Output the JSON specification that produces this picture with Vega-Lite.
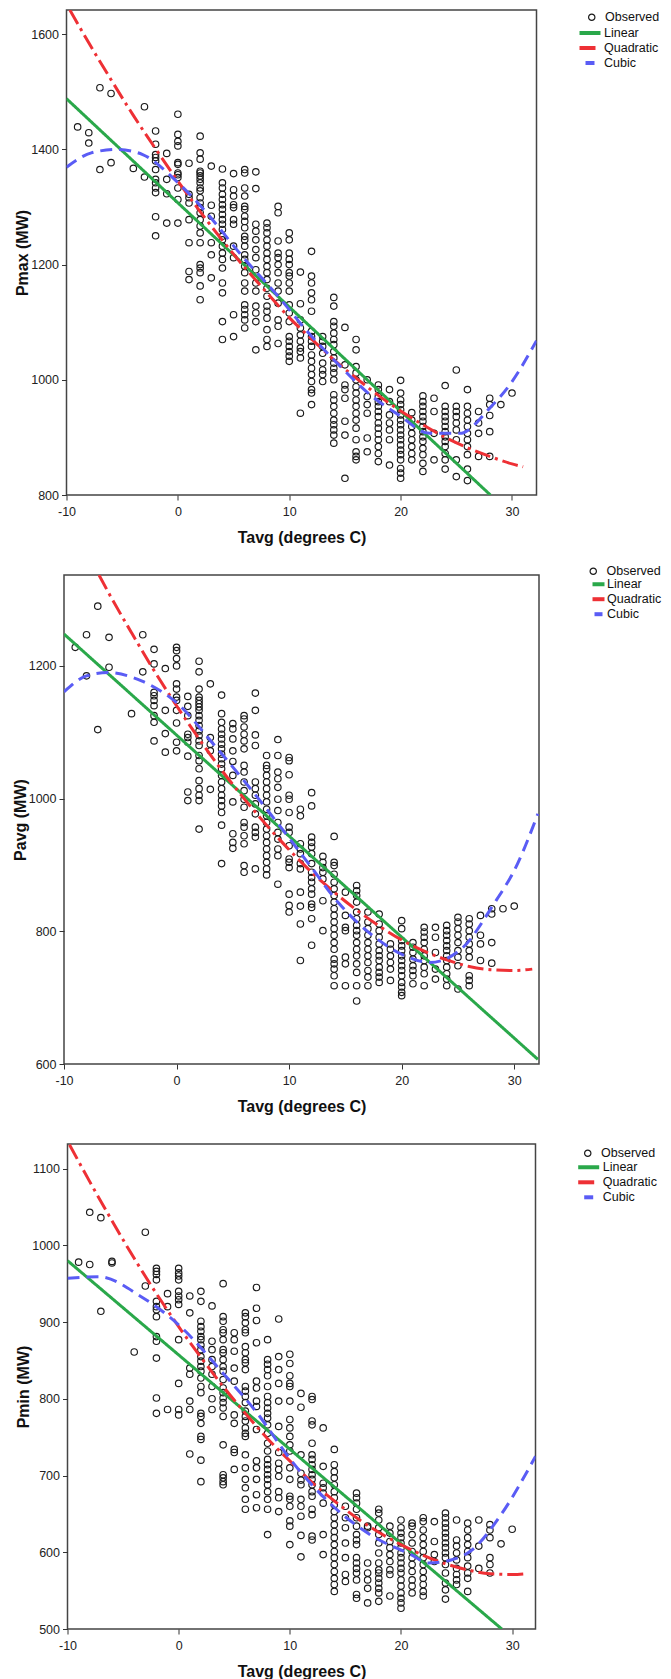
{
  "$schema": "https://vega.github.io/schema/vega-lite/v6.json",
  "background": "white",
  "padding": {"left": 11, "top": 9, "right": 0, "bottom": 0},
  "config": {
    "view": {"stroke": "#444444", "strokeWidth": 1.5},
    "font": "Liberation Sans",
    "axis": {"grid": false, "domain": false, "ticks": true, "tickSize": 5, "tickColor": "#333333", "tickWidth": 1,
             "labelFont": "Liberation Sans", "labelFontSize": 12.5, "labelColor": "#222222",
             "titleFont": "Liberation Sans", "titleFontSize": 16, "titleFontWeight": "bold", "titleColor": "#111111",
             "labelFlush": false, "labelOverlap": false},
    "axisX": {"labelPadding": 5, "titlePadding": 12},
    "axisY": {"labelPadding": 3, "titlePadding": 0},
    "legend": {"title": null, "padding": 0, "labelFont": "Liberation Sans", "labelFontSize": 12.5, "labelColor": "#111111", "labelOffset": 7}
  },
  "datasets": {
    "p1": [
      {"t":-9,"p":1439},{"t":-8,"p":1429},{"t":-8,"p":1411},{"t":-7,"p":1507},{"t":-7,"p":1365},{"t":-6,"p":1497},{"t":-6,"p":1377},{"t":-4,"p":1367},{"t":-3,"p":1474},{"t":-3,"p":1352},
      {"t":-2,"p":1432},{"t":-2,"p":1409},{"t":-2,"p":1391},{"t":-2,"p":1386},{"t":-2,"p":1380},{"t":-2,"p":1365},{"t":-2,"p":1348},{"t":-2,"p":1342},{"t":-2,"p":1333},{"t":-2,"p":1325},{"t":-2,"p":1283},{"t":-2,"p":1250},
      {"t":-1,"p":1393},{"t":-1,"p":1348},{"t":-1,"p":1323},{"t":-1,"p":1272},
      {"t":0,"p":1461},{"t":0,"p":1426},{"t":0,"p":1414},{"t":0,"p":1406},{"t":0,"p":1377},{"t":0,"p":1374},{"t":0,"p":1359},{"t":0,"p":1356},{"t":0,"p":1351},{"t":0,"p":1333},{"t":0,"p":1313},{"t":0,"p":1272},
      {"t":1,"p":1376},{"t":1,"p":1322},{"t":1,"p":1316},{"t":1,"p":1307},{"t":1,"p":1278},{"t":1,"p":1238},{"t":1,"p":1188},{"t":1,"p":1174},
      {"t":2,"p":1423},{"t":2,"p":1394},{"t":2,"p":1383},{"t":2,"p":1362},{"t":2,"p":1359},{"t":2,"p":1354},{"t":2,"p":1348},{"t":2,"p":1342},{"t":2,"p":1333},{"t":2,"p":1328},{"t":2,"p":1316},{"t":2,"p":1307},{"t":2,"p":1299},{"t":2,"p":1290},{"t":2,"p":1278},{"t":2,"p":1267},{"t":2,"p":1255},{"t":2,"p":1238},{"t":2,"p":1200},{"t":2,"p":1194},{"t":2,"p":1186},{"t":2,"p":1163},{"t":2,"p":1139},
      {"t":3,"p":1371},{"t":3,"p":1303},{"t":3,"p":1284},{"t":3,"p":1238},{"t":3,"p":1217},{"t":3,"p":1177},
      {"t":4,"p":1366},{"t":4,"p":1342},{"t":4,"p":1333},{"t":4,"p":1322},{"t":4,"p":1313},{"t":4,"p":1304},{"t":4,"p":1296},{"t":4,"p":1287},{"t":4,"p":1278},{"t":4,"p":1270},{"t":4,"p":1261},{"t":4,"p":1249},{"t":4,"p":1243},{"t":4,"p":1232},{"t":4,"p":1220},{"t":4,"p":1209},{"t":4,"p":1194},{"t":4,"p":1168},{"t":4,"p":1151},{"t":4,"p":1101},{"t":4,"p":1070},
      {"t":5,"p":1358},{"t":5,"p":1330},{"t":5,"p":1319},{"t":5,"p":1304},{"t":5,"p":1299},{"t":5,"p":1278},{"t":5,"p":1270},{"t":5,"p":1232},{"t":5,"p":1212},{"t":5,"p":1113},{"t":5,"p":1075},
      {"t":6,"p":1365},{"t":6,"p":1359},{"t":6,"p":1333},{"t":6,"p":1319},{"t":6,"p":1301},{"t":6,"p":1296},{"t":6,"p":1284},{"t":6,"p":1275},{"t":6,"p":1264},{"t":6,"p":1249},{"t":6,"p":1243},{"t":6,"p":1232},{"t":6,"p":1217},{"t":6,"p":1209},{"t":6,"p":1197},{"t":6,"p":1186},{"t":6,"p":1168},{"t":6,"p":1154},{"t":6,"p":1130},{"t":6,"p":1122},{"t":6,"p":1113},{"t":6,"p":1104},{"t":6,"p":1090},
      {"t":7,"p":1361},{"t":7,"p":1332},{"t":7,"p":1270},{"t":7,"p":1258},{"t":7,"p":1243},{"t":7,"p":1226},{"t":7,"p":1212},{"t":7,"p":1191},{"t":7,"p":1168},{"t":7,"p":1154},{"t":7,"p":1128},{"t":7,"p":1116},{"t":7,"p":1101},{"t":7,"p":1052},
      {"t":8,"p":1272},{"t":8,"p":1264},{"t":8,"p":1255},{"t":8,"p":1243},{"t":8,"p":1232},{"t":8,"p":1220},{"t":8,"p":1209},{"t":8,"p":1197},{"t":8,"p":1186},{"t":8,"p":1174},{"t":8,"p":1159},{"t":8,"p":1145},{"t":8,"p":1128},{"t":8,"p":1119},{"t":8,"p":1107},{"t":8,"p":1087},{"t":8,"p":1070},{"t":8,"p":1058},
      {"t":9,"p":1301},{"t":9,"p":1290},{"t":9,"p":1241},{"t":9,"p":1220},{"t":9,"p":1212},{"t":9,"p":1200},{"t":9,"p":1186},{"t":9,"p":1168},{"t":9,"p":1154},{"t":9,"p":1133},{"t":9,"p":1104},{"t":9,"p":1093},{"t":9,"p":1063},
      {"t":10,"p":1255},{"t":10,"p":1243},{"t":10,"p":1220},{"t":10,"p":1209},{"t":10,"p":1200},{"t":10,"p":1186},{"t":10,"p":1180},{"t":10,"p":1168},{"t":10,"p":1154},{"t":10,"p":1130},{"t":10,"p":1116},{"t":10,"p":1101},{"t":10,"p":1075},{"t":10,"p":1067},{"t":10,"p":1058},{"t":10,"p":1049},{"t":10,"p":1041},{"t":10,"p":1032},
      {"t":11,"p":1187},{"t":11,"p":1132},{"t":11,"p":1104},{"t":11,"p":1090},{"t":11,"p":1078},{"t":11,"p":1067},{"t":11,"p":1055},{"t":11,"p":1049},{"t":11,"p":1038},{"t":11,"p":942},
      {"t":12,"p":1223},{"t":12,"p":1180},{"t":12,"p":1168},{"t":12,"p":1151},{"t":12,"p":1139},{"t":12,"p":1119},{"t":12,"p":1084},{"t":12,"p":1075},{"t":12,"p":1067},{"t":12,"p":1058},{"t":12,"p":1043},{"t":12,"p":1032},{"t":12,"p":1020},{"t":12,"p":1009},{"t":12,"p":997},{"t":12,"p":983},{"t":12,"p":977},{"t":12,"p":957},
      {"t":13,"p":1075},{"t":13,"p":1067},{"t":13,"p":1058},{"t":13,"p":1046},{"t":13,"p":1029},{"t":13,"p":1017},{"t":13,"p":1009},{"t":13,"p":997},
      {"t":14,"p":1143},{"t":14,"p":1128},{"t":14,"p":1101},{"t":14,"p":1093},{"t":14,"p":1081},{"t":14,"p":1070},{"t":14,"p":1061},{"t":14,"p":1049},{"t":14,"p":1038},{"t":14,"p":1029},{"t":14,"p":1020},{"t":14,"p":1012},{"t":14,"p":1000},{"t":14,"p":974},{"t":14,"p":965},{"t":14,"p":954},{"t":14,"p":942},{"t":14,"p":930},{"t":14,"p":922},{"t":14,"p":913},{"t":14,"p":904},{"t":14,"p":890},
      {"t":15,"p":1091},{"t":15,"p":1026},{"t":15,"p":991},{"t":15,"p":983},{"t":15,"p":968},{"t":15,"p":928},{"t":15,"p":904},{"t":15,"p":829},
      {"t":16,"p":1070},{"t":16,"p":1052},{"t":16,"p":1023},{"t":16,"p":1012},{"t":16,"p":1000},{"t":16,"p":988},{"t":16,"p":977},{"t":16,"p":965},{"t":16,"p":954},{"t":16,"p":942},{"t":16,"p":930},{"t":16,"p":916},{"t":16,"p":896},{"t":16,"p":875},{"t":16,"p":867},{"t":16,"p":861},
      {"t":17,"p":1000},{"t":17,"p":971},{"t":17,"p":957},{"t":17,"p":942},{"t":17,"p":899},{"t":17,"p":875},
      {"t":18,"p":991},{"t":18,"p":983},{"t":18,"p":971},{"t":18,"p":962},{"t":18,"p":954},{"t":18,"p":945},{"t":18,"p":936},{"t":18,"p":925},{"t":18,"p":916},{"t":18,"p":906},{"t":18,"p":896},{"t":18,"p":884},{"t":18,"p":872},{"t":18,"p":858},
      {"t":19,"p":983},{"t":19,"p":962},{"t":19,"p":939},{"t":19,"p":925},{"t":19,"p":913},{"t":19,"p":896},{"t":19,"p":852},
      {"t":20,"p":999},{"t":20,"p":977},{"t":20,"p":965},{"t":20,"p":957},{"t":20,"p":948},{"t":20,"p":939},{"t":20,"p":930},{"t":20,"p":922},{"t":20,"p":913},{"t":20,"p":904},{"t":20,"p":896},{"t":20,"p":887},{"t":20,"p":878},{"t":20,"p":870},{"t":20,"p":861},{"t":20,"p":846},{"t":20,"p":838},{"t":20,"p":829},
      {"t":21,"p":943},{"t":21,"p":930},{"t":21,"p":919},{"t":21,"p":907},{"t":21,"p":896},{"t":21,"p":884},{"t":21,"p":872},{"t":21,"p":861},
      {"t":22,"p":972},{"t":22,"p":962},{"t":22,"p":954},{"t":22,"p":945},{"t":22,"p":936},{"t":22,"p":928},{"t":22,"p":919},{"t":22,"p":910},{"t":22,"p":901},{"t":22,"p":893},{"t":22,"p":881},{"t":22,"p":870},{"t":22,"p":855},{"t":22,"p":841},
      {"t":23,"p":968},{"t":23,"p":945},{"t":23,"p":907},{"t":23,"p":861},
      {"t":24,"p":990},{"t":24,"p":954},{"t":24,"p":945},{"t":24,"p":936},{"t":24,"p":928},{"t":24,"p":919},{"t":24,"p":910},{"t":24,"p":901},{"t":24,"p":893},{"t":24,"p":884},{"t":24,"p":872},{"t":24,"p":861},{"t":24,"p":845},
      {"t":25,"p":1017},{"t":25,"p":954},{"t":25,"p":945},{"t":25,"p":936},{"t":25,"p":925},{"t":25,"p":913},{"t":25,"p":896},{"t":25,"p":861},{"t":25,"p":832},
      {"t":26,"p":983},{"t":26,"p":954},{"t":26,"p":942},{"t":26,"p":930},{"t":26,"p":919},{"t":26,"p":907},{"t":26,"p":896},{"t":26,"p":884},{"t":26,"p":870},{"t":26,"p":845},{"t":26,"p":825},
      {"t":27,"p":945},{"t":27,"p":925},{"t":27,"p":907},{"t":27,"p":867},
      {"t":28,"p":968},{"t":28,"p":957},{"t":28,"p":938},{"t":28,"p":910},{"t":28,"p":867},
      {"t":29,"p":957},{"t":30,"p":977}
    ],
    "c1": [
      {"s":"Linear","t":-10,"p":1488},{"s":"Linear","t":28.06,"p":800},
      {"s":"Quadratic","t":-9.7,"p":1642},{"s":"Quadratic","t":-8,"p":1585},{"s":"Quadratic","t":-6,"p":1521},{"s":"Quadratic","t":-4,"p":1459},{"s":"Quadratic","t":-2,"p":1401},{"s":"Quadratic","t":0,"p":1345},{"s":"Quadratic","t":2,"p":1292},{"s":"Quadratic","t":4,"p":1242},{"s":"Quadratic","t":6,"p":1195},{"s":"Quadratic","t":8,"p":1151},{"s":"Quadratic","t":10,"p":1108},{"s":"Quadratic","t":12,"p":1071},{"s":"Quadratic","t":14,"p":1035},{"s":"Quadratic","t":16,"p":1003},{"s":"Quadratic","t":18,"p":973},{"s":"Quadratic","t":20,"p":946},{"s":"Quadratic","t":22,"p":922},{"s":"Quadratic","t":24,"p":900},{"s":"Quadratic","t":26,"p":882},{"s":"Quadratic","t":28,"p":867},{"s":"Quadratic","t":30,"p":854},{"s":"Quadratic","t":31,"p":849},
      {"s":"Cubic","t":-10,"p":1369},{"s":"Cubic","t":-7.77,"p":1394},{"s":"Cubic","t":-5.47,"p":1400},{"s":"Cubic","t":-3.16,"p":1391},{"s":"Cubic","t":-0.09,"p":1344},{"s":"Cubic","t":2.22,"p":1298},{"s":"Cubic","t":5.67,"p":1217},{"s":"Cubic","t":9.13,"p":1142},{"s":"Cubic","t":11.8,"p":1080},{"s":"Cubic","t":14.5,"p":1025},{"s":"Cubic","t":17.2,"p":975},{"s":"Cubic","t":19.9,"p":938},{"s":"Cubic","t":22.6,"p":907},{"s":"Cubic","t":25.3,"p":907},{"s":"Cubic","t":27.96,"p":950},{"s":"Cubic","t":29.9,"p":994},{"s":"Cubic","t":32.2,"p":1068}
    ],
    "p2": [
      {"t":-9,"p":1228},{"t":-8,"p":1247},{"t":-8,"p":1185},{"t":-7,"p":1290},{"t":-7,"p":1104},{"t":-6,"p":1243},{"t":-6,"p":1198},{"t":-4,"p":1128},{"t":-3,"p":1247},{"t":-3,"p":1191},
      {"t":-2,"p":1225},{"t":-2,"p":1203},{"t":-2,"p":1160},{"t":-2,"p":1155},{"t":-2,"p":1148},{"t":-2,"p":1140},{"t":-2,"p":1125},{"t":-2,"p":1115},{"t":-2,"p":1087},
      {"t":-1,"p":1196},{"t":-1,"p":1133},{"t":-1,"p":1098},{"t":-1,"p":1070},
      {"t":0,"p":1228},{"t":0,"p":1223},{"t":0,"p":1211},{"t":0,"p":1200},{"t":0,"p":1173},{"t":0,"p":1165},{"t":0,"p":1153},{"t":0,"p":1148},{"t":0,"p":1133},{"t":0,"p":1114},{"t":0,"p":1085},{"t":0,"p":1072},
      {"t":1,"p":1154},{"t":1,"p":1139},{"t":1,"p":1125},{"t":1,"p":1097},{"t":1,"p":1092},{"t":1,"p":1085},{"t":1,"p":1064},{"t":1,"p":1010},{"t":1,"p":997},
      {"t":2,"p":1207},{"t":2,"p":1191},{"t":2,"p":1165},{"t":2,"p":1153},{"t":2,"p":1148},{"t":2,"p":1143},{"t":2,"p":1138},{"t":2,"p":1133},{"t":2,"p":1125},{"t":2,"p":1118},{"t":2,"p":1110},{"t":2,"p":1102},{"t":2,"p":1095},{"t":2,"p":1087},{"t":2,"p":1080},{"t":2,"p":1065},{"t":2,"p":1057},{"t":2,"p":1045},{"t":2,"p":1027},{"t":2,"p":1015},{"t":2,"p":1005},{"t":2,"p":997},{"t":2,"p":954},
      {"t":3,"p":1173},{"t":3,"p":1092},{"t":3,"p":1082},{"t":3,"p":1072},{"t":3,"p":1014},
      {"t":4,"p":1156},{"t":4,"p":1128},{"t":4,"p":1115},{"t":4,"p":1105},{"t":4,"p":1097},{"t":4,"p":1090},{"t":4,"p":1082},{"t":4,"p":1075},{"t":4,"p":1067},{"t":4,"p":1060},{"t":4,"p":1052},{"t":4,"p":1045},{"t":4,"p":1035},{"t":4,"p":1025},{"t":4,"p":1015},{"t":4,"p":1005},{"t":4,"p":997},{"t":4,"p":989},{"t":4,"p":979},{"t":4,"p":960},{"t":4,"p":902},
      {"t":5,"p":1113},{"t":5,"p":1105},{"t":5,"p":1090},{"t":5,"p":1072},{"t":5,"p":1056},{"t":5,"p":1035},{"t":5,"p":995},{"t":5,"p":947},{"t":5,"p":934},{"t":5,"p":925},
      {"t":6,"p":1125},{"t":6,"p":1120},{"t":6,"p":1108},{"t":6,"p":1097},{"t":6,"p":1087},{"t":6,"p":1075},{"t":6,"p":1050},{"t":6,"p":1040},{"t":6,"p":1025},{"t":6,"p":1012},{"t":6,"p":999},{"t":6,"p":987},{"t":6,"p":964},{"t":6,"p":957},{"t":6,"p":944},{"t":6,"p":932},{"t":6,"p":899},{"t":6,"p":889},
      {"t":7,"p":1159},{"t":7,"p":1133},{"t":7,"p":1096},{"t":7,"p":1080},{"t":7,"p":1025},{"t":7,"p":1015},{"t":7,"p":1005},{"t":7,"p":992},{"t":7,"p":977},{"t":7,"p":957},{"t":7,"p":949},{"t":7,"p":942},{"t":7,"p":894},
      {"t":8,"p":1065},{"t":8,"p":1050},{"t":8,"p":1045},{"t":8,"p":1035},{"t":8,"p":1025},{"t":8,"p":1015},{"t":8,"p":1005},{"t":8,"p":995},{"t":8,"p":984},{"t":8,"p":974},{"t":8,"p":964},{"t":8,"p":954},{"t":8,"p":944},{"t":8,"p":934},{"t":8,"p":924},{"t":8,"p":914},{"t":8,"p":904},{"t":8,"p":894},{"t":8,"p":885},
      {"t":9,"p":1089},{"t":9,"p":1065},{"t":9,"p":1040},{"t":9,"p":1030},{"t":9,"p":1017},{"t":9,"p":999},{"t":9,"p":982},{"t":9,"p":964},{"t":9,"p":949},{"t":9,"p":939},{"t":9,"p":924},{"t":9,"p":914},{"t":9,"p":871},
      {"t":10,"p":1062},{"t":10,"p":1057},{"t":10,"p":1036},{"t":10,"p":1005},{"t":10,"p":999},{"t":10,"p":979},{"t":10,"p":957},{"t":10,"p":949},{"t":10,"p":929},{"t":10,"p":909},{"t":10,"p":904},{"t":10,"p":896},{"t":10,"p":856},{"t":10,"p":839},{"t":10,"p":829},
      {"t":11,"p":984},{"t":11,"p":974},{"t":11,"p":932},{"t":11,"p":924},{"t":11,"p":917},{"t":11,"p":902},{"t":11,"p":894},{"t":11,"p":859},{"t":11,"p":838},{"t":11,"p":811},{"t":11,"p":756},
      {"t":12,"p":1009},{"t":12,"p":989},{"t":12,"p":942},{"t":12,"p":934},{"t":12,"p":927},{"t":12,"p":917},{"t":12,"p":902},{"t":12,"p":889},{"t":12,"p":881},{"t":12,"p":874},{"t":12,"p":864},{"t":12,"p":856},{"t":12,"p":841},{"t":12,"p":836},{"t":12,"p":819},{"t":12,"p":779},
      {"t":13,"p":913},{"t":13,"p":904},{"t":13,"p":896},{"t":13,"p":889},{"t":13,"p":879},{"t":13,"p":846},{"t":13,"p":801},
      {"t":14,"p":943},{"t":14,"p":904},{"t":14,"p":899},{"t":14,"p":886},{"t":14,"p":874},{"t":14,"p":864},{"t":14,"p":854},{"t":14,"p":844},{"t":14,"p":834},{"t":14,"p":824},{"t":14,"p":814},{"t":14,"p":804},{"t":14,"p":794},{"t":14,"p":783},{"t":14,"p":773},{"t":14,"p":758},{"t":14,"p":751},{"t":14,"p":743},{"t":14,"p":733},{"t":14,"p":718},
      {"t":15,"p":859},{"t":15,"p":824},{"t":15,"p":806},{"t":15,"p":801},{"t":15,"p":761},{"t":15,"p":751},{"t":15,"p":718},
      {"t":16,"p":869},{"t":16,"p":861},{"t":16,"p":854},{"t":16,"p":844},{"t":16,"p":829},{"t":16,"p":819},{"t":16,"p":809},{"t":16,"p":801},{"t":16,"p":794},{"t":16,"p":783},{"t":16,"p":773},{"t":16,"p":763},{"t":16,"p":751},{"t":16,"p":738},{"t":16,"p":718},{"t":16,"p":695},
      {"t":17,"p":829},{"t":17,"p":814},{"t":17,"p":804},{"t":17,"p":794},{"t":17,"p":783},{"t":17,"p":773},{"t":17,"p":763},{"t":17,"p":753},{"t":17,"p":741},{"t":17,"p":731},{"t":17,"p":718},
      {"t":18,"p":826},{"t":18,"p":811},{"t":18,"p":801},{"t":18,"p":791},{"t":18,"p":781},{"t":18,"p":771},{"t":18,"p":763},{"t":18,"p":756},{"t":18,"p":746},{"t":18,"p":738},{"t":18,"p":731},{"t":18,"p":723},
      {"t":19,"p":781},{"t":19,"p":773},{"t":19,"p":763},{"t":19,"p":753},{"t":19,"p":743},{"t":19,"p":726},
      {"t":20,"p":816},{"t":20,"p":804},{"t":20,"p":786},{"t":20,"p":778},{"t":20,"p":771},{"t":20,"p":763},{"t":20,"p":756},{"t":20,"p":748},{"t":20,"p":741},{"t":20,"p":733},{"t":20,"p":723},{"t":20,"p":716},{"t":20,"p":708},{"t":20,"p":703},
      {"t":21,"p":783},{"t":21,"p":776},{"t":21,"p":768},{"t":21,"p":758},{"t":21,"p":748},{"t":21,"p":741},{"t":21,"p":733},{"t":21,"p":721},
      {"t":22,"p":806},{"t":22,"p":799},{"t":22,"p":791},{"t":22,"p":783},{"t":22,"p":773},{"t":22,"p":763},{"t":22,"p":756},{"t":22,"p":746},{"t":22,"p":736},{"t":22,"p":718},
      {"t":23,"p":806},{"t":23,"p":791},{"t":23,"p":768},{"t":23,"p":743},{"t":23,"p":728},
      {"t":24,"p":809},{"t":24,"p":801},{"t":24,"p":794},{"t":24,"p":786},{"t":24,"p":778},{"t":24,"p":771},{"t":24,"p":763},{"t":24,"p":756},{"t":24,"p":746},{"t":24,"p":736},{"t":24,"p":728},{"t":24,"p":718},
      {"t":25,"p":821},{"t":25,"p":814},{"t":25,"p":804},{"t":25,"p":794},{"t":25,"p":783},{"t":25,"p":771},{"t":25,"p":761},{"t":25,"p":748},{"t":25,"p":713},
      {"t":26,"p":819},{"t":26,"p":811},{"t":26,"p":801},{"t":26,"p":791},{"t":26,"p":781},{"t":26,"p":771},{"t":26,"p":761},{"t":26,"p":733},{"t":26,"p":726},{"t":26,"p":718},
      {"t":27,"p":824},{"t":27,"p":794},{"t":27,"p":781},{"t":27,"p":756},
      {"t":28,"p":834},{"t":28,"p":826},{"t":28,"p":783},{"t":28,"p":752},
      {"t":29,"p":834},{"t":30,"p":838}
    ],
    "c2": [
      {"s":"Linear","t":-10,"p":1248},{"s":"Linear","t":32.1,"p":607},
      {"s":"Quadratic","t":-6.89,"p":1337},{"s":"Quadratic","t":-6,"p":1309},{"s":"Quadratic","t":-4,"p":1250},{"s":"Quadratic","t":-2,"p":1193},{"s":"Quadratic","t":0,"p":1140},{"s":"Quadratic","t":2,"p":1090},{"s":"Quadratic","t":4,"p":1043},{"s":"Quadratic","t":6,"p":1000},{"s":"Quadratic","t":8,"p":960},{"s":"Quadratic","t":10,"p":923},{"s":"Quadratic","t":12,"p":889},{"s":"Quadratic","t":14,"p":859},{"s":"Quadratic","t":16,"p":832},{"s":"Quadratic","t":18,"p":808},{"s":"Quadratic","t":20,"p":787},{"s":"Quadratic","t":22,"p":770},{"s":"Quadratic","t":24,"p":757},{"s":"Quadratic","t":26,"p":747},{"s":"Quadratic","t":28,"p":742},{"s":"Quadratic","t":30,"p":741},{"s":"Quadratic","t":31.6,"p":743},
      {"s":"Cubic","t":-10,"p":1161},{"s":"Cubic","t":-8,"p":1185},{"s":"Cubic","t":-6.1,"p":1190},{"s":"Cubic","t":-3.06,"p":1177},{"s":"Cubic","t":-0.03,"p":1145},{"s":"Cubic","t":3.38,"p":1080},{"s":"Cubic","t":6.04,"p":1026},{"s":"Cubic","t":9.07,"p":961},{"s":"Cubic","t":11.73,"p":902},{"s":"Cubic","t":14.38,"p":843},{"s":"Cubic","t":17.4,"p":794},{"s":"Cubic","t":20.45,"p":762},{"s":"Cubic","t":22.5,"p":753},{"s":"Cubic","t":25.4,"p":775},{"s":"Cubic","t":28.03,"p":837},{"s":"Cubic","t":30.3,"p":902},{"s":"Cubic","t":32.1,"p":977}
    ],
    "p3": [
      {"t":-9,"p":978},{"t":-8,"p":1043},{"t":-8,"p":975},{"t":-7,"p":1036},{"t":-7,"p":914},{"t":-6,"p":979},{"t":-6,"p":977},{"t":-4,"p":861},{"t":-3,"p":1017},{"t":-3,"p":947},
      {"t":-2,"p":970},{"t":-2,"p":966},{"t":-2,"p":962},{"t":-2,"p":955},{"t":-2,"p":927},{"t":-2,"p":920},{"t":-2,"p":916},{"t":-2,"p":907},{"t":-2,"p":881},{"t":-2,"p":875},{"t":-2,"p":853},{"t":-2,"p":801},{"t":-2,"p":781},
      {"t":-1,"p":937},{"t":-1,"p":920},{"t":-1,"p":786},
      {"t":0,"p":970},{"t":0,"p":964},{"t":0,"p":960},{"t":0,"p":955},{"t":0,"p":940},{"t":0,"p":934},{"t":0,"p":929},{"t":0,"p":923},{"t":0,"p":877},{"t":0,"p":820},{"t":0,"p":786},{"t":0,"p":779},
      {"t":1,"p":934},{"t":1,"p":912},{"t":1,"p":840},{"t":1,"p":832},{"t":1,"p":797},{"t":1,"p":786},{"t":1,"p":728},
      {"t":2,"p":940},{"t":2,"p":927},{"t":2,"p":901},{"t":2,"p":894},{"t":2,"p":888},{"t":2,"p":881},{"t":2,"p":877},{"t":2,"p":870},{"t":2,"p":864},{"t":2,"p":855},{"t":2,"p":849},{"t":2,"p":842},{"t":2,"p":836},{"t":2,"p":827},{"t":2,"p":816},{"t":2,"p":808},{"t":2,"p":781},{"t":2,"p":777},{"t":2,"p":768},{"t":2,"p":751},{"t":2,"p":747},{"t":2,"p":720},{"t":2,"p":692},
      {"t":3,"p":921},{"t":3,"p":875},{"t":3,"p":864},{"t":3,"p":851},{"t":3,"p":842},{"t":3,"p":832},{"t":3,"p":816},{"t":3,"p":800},{"t":3,"p":786},
      {"t":4,"p":950},{"t":4,"p":907},{"t":4,"p":901},{"t":4,"p":890},{"t":4,"p":886},{"t":4,"p":877},{"t":4,"p":864},{"t":4,"p":860},{"t":4,"p":851},{"t":4,"p":842},{"t":4,"p":836},{"t":4,"p":825},{"t":4,"p":814},{"t":4,"p":808},{"t":4,"p":801},{"t":4,"p":795},{"t":4,"p":788},{"t":4,"p":777},{"t":4,"p":740},{"t":4,"p":701},{"t":4,"p":697},{"t":4,"p":692},{"t":4,"p":688},
      {"t":5,"p":886},{"t":5,"p":877},{"t":5,"p":862},{"t":5,"p":840},{"t":5,"p":823},{"t":5,"p":779},{"t":5,"p":768},{"t":5,"p":734},{"t":5,"p":730},{"t":5,"p":708},
      {"t":6,"p":912},{"t":6,"p":907},{"t":6,"p":899},{"t":6,"p":890},{"t":6,"p":886},{"t":6,"p":868},{"t":6,"p":860},{"t":6,"p":851},{"t":6,"p":847},{"t":6,"p":838},{"t":6,"p":816},{"t":6,"p":810},{"t":6,"p":803},{"t":6,"p":795},{"t":6,"p":784},{"t":6,"p":777},{"t":6,"p":771},{"t":6,"p":762},{"t":6,"p":755},{"t":6,"p":751},{"t":6,"p":727},{"t":6,"p":710},{"t":6,"p":695},{"t":6,"p":684},{"t":6,"p":669},{"t":6,"p":656},
      {"t":7,"p":945},{"t":7,"p":918},{"t":7,"p":902},{"t":7,"p":873},{"t":7,"p":823},{"t":7,"p":814},{"t":7,"p":797},{"t":7,"p":790},{"t":7,"p":760},{"t":7,"p":719},{"t":7,"p":710},{"t":7,"p":695},{"t":7,"p":675},{"t":7,"p":658},
      {"t":8,"p":877},{"t":8,"p":851},{"t":8,"p":845},{"t":8,"p":838},{"t":8,"p":830},{"t":8,"p":816},{"t":8,"p":803},{"t":8,"p":795},{"t":8,"p":788},{"t":8,"p":781},{"t":8,"p":775},{"t":8,"p":766},{"t":8,"p":755},{"t":8,"p":742},{"t":8,"p":732},{"t":8,"p":721},{"t":8,"p":714},{"t":8,"p":708},{"t":8,"p":701},{"t":8,"p":695},{"t":8,"p":688},{"t":8,"p":679},{"t":8,"p":669},{"t":8,"p":656},{"t":8,"p":623},
      {"t":9,"p":904},{"t":9,"p":855},{"t":9,"p":838},{"t":9,"p":820},{"t":9,"p":797},{"t":9,"p":764},{"t":9,"p":730},{"t":9,"p":716},{"t":9,"p":708},{"t":9,"p":699},{"t":9,"p":679},{"t":9,"p":671},{"t":9,"p":653},
      {"t":10,"p":858},{"t":10,"p":846},{"t":10,"p":830},{"t":10,"p":820},{"t":10,"p":816},{"t":10,"p":797},{"t":10,"p":773},{"t":10,"p":762},{"t":10,"p":751},{"t":10,"p":740},{"t":10,"p":732},{"t":10,"p":710},{"t":10,"p":695},{"t":10,"p":673},{"t":10,"p":669},{"t":10,"p":660},{"t":10,"p":641},{"t":10,"p":634},{"t":10,"p":610},
      {"t":11,"p":807},{"t":11,"p":789},{"t":11,"p":727},{"t":11,"p":703},{"t":11,"p":694},{"t":11,"p":688},{"t":11,"p":669},{"t":11,"p":660},{"t":11,"p":647},{"t":11,"p":622},{"t":11,"p":594},
      {"t":12,"p":803},{"t":12,"p":799},{"t":12,"p":771},{"t":12,"p":766},{"t":12,"p":742},{"t":12,"p":727},{"t":12,"p":721},{"t":12,"p":714},{"t":12,"p":708},{"t":12,"p":701},{"t":12,"p":695},{"t":12,"p":688},{"t":12,"p":679},{"t":12,"p":673},{"t":12,"p":656},{"t":12,"p":649},{"t":12,"p":621},{"t":12,"p":616},
      {"t":13,"p":762},{"t":13,"p":712},{"t":13,"p":690},{"t":13,"p":684},{"t":13,"p":677},{"t":13,"p":664},{"t":13,"p":623},{"t":13,"p":597},
      {"t":14,"p":734},{"t":14,"p":714},{"t":14,"p":705},{"t":14,"p":697},{"t":14,"p":688},{"t":14,"p":679},{"t":14,"p":671},{"t":14,"p":662},{"t":14,"p":653},{"t":14,"p":645},{"t":14,"p":636},{"t":14,"p":627},{"t":14,"p":619},{"t":14,"p":610},{"t":14,"p":601},{"t":14,"p":593},{"t":14,"p":584},{"t":14,"p":575},{"t":14,"p":566},{"t":14,"p":558},{"t":14,"p":549},
      {"t":15,"p":660},{"t":15,"p":645},{"t":15,"p":632},{"t":15,"p":612},{"t":15,"p":593},{"t":15,"p":571},{"t":15,"p":562},
      {"t":16,"p":677},{"t":16,"p":671},{"t":16,"p":664},{"t":16,"p":656},{"t":16,"p":645},{"t":16,"p":634},{"t":16,"p":623},{"t":16,"p":616},{"t":16,"p":610},{"t":16,"p":593},{"t":16,"p":586},{"t":16,"p":579},{"t":16,"p":573},{"t":16,"p":564},{"t":16,"p":545},{"t":16,"p":540},
      {"t":17,"p":634},{"t":17,"p":632},{"t":17,"p":586},{"t":17,"p":573},{"t":17,"p":564},{"t":17,"p":553},{"t":17,"p":534},
      {"t":18,"p":656},{"t":18,"p":651},{"t":18,"p":642},{"t":18,"p":632},{"t":18,"p":623},{"t":18,"p":612},{"t":18,"p":599},{"t":18,"p":586},{"t":18,"p":577},{"t":18,"p":573},{"t":18,"p":566},{"t":18,"p":560},{"t":18,"p":553},{"t":18,"p":547},{"t":18,"p":536},
      {"t":19,"p":634},{"t":19,"p":625},{"t":19,"p":614},{"t":19,"p":606},{"t":19,"p":597},{"t":19,"p":588},{"t":19,"p":577},{"t":19,"p":571},{"t":19,"p":543},
      {"t":20,"p":642},{"t":20,"p":632},{"t":20,"p":625},{"t":20,"p":619},{"t":20,"p":612},{"t":20,"p":606},{"t":20,"p":599},{"t":20,"p":593},{"t":20,"p":586},{"t":20,"p":579},{"t":20,"p":573},{"t":20,"p":564},{"t":20,"p":556},{"t":20,"p":547},{"t":20,"p":540},{"t":20,"p":534},{"t":20,"p":527},
      {"t":21,"p":638},{"t":21,"p":634},{"t":21,"p":623},{"t":21,"p":612},{"t":21,"p":601},{"t":21,"p":593},{"t":21,"p":584},{"t":21,"p":575},{"t":21,"p":564},{"t":21,"p":556},{"t":21,"p":547},
      {"t":22,"p":645},{"t":22,"p":640},{"t":22,"p":629},{"t":22,"p":619},{"t":22,"p":610},{"t":22,"p":601},{"t":22,"p":593},{"t":22,"p":584},{"t":22,"p":575},{"t":22,"p":566},{"t":22,"p":558},{"t":22,"p":549},{"t":22,"p":543},
      {"t":23,"p":640},{"t":23,"p":614},{"t":23,"p":597},{"t":23,"p":588},
      {"t":24,"p":651},{"t":24,"p":645},{"t":24,"p":638},{"t":24,"p":632},{"t":24,"p":625},{"t":24,"p":619},{"t":24,"p":612},{"t":24,"p":606},{"t":24,"p":599},{"t":24,"p":593},{"t":24,"p":584},{"t":24,"p":573},{"t":24,"p":560},{"t":24,"p":551},{"t":24,"p":539},
      {"t":25,"p":642},{"t":25,"p":616},{"t":25,"p":608},{"t":25,"p":599},{"t":25,"p":590},{"t":25,"p":579},{"t":25,"p":571},{"t":25,"p":564},{"t":25,"p":558},
      {"t":26,"p":638},{"t":26,"p":629},{"t":26,"p":619},{"t":26,"p":610},{"t":26,"p":601},{"t":26,"p":593},{"t":26,"p":582},{"t":26,"p":573},{"t":26,"p":566},{"t":26,"p":549},
      {"t":27,"p":642},{"t":27,"p":608},{"t":27,"p":579},
      {"t":28,"p":636},{"t":28,"p":629},{"t":28,"p":619},{"t":28,"p":593},{"t":28,"p":584},{"t":28,"p":573},
      {"t":29,"p":611},{"t":30,"p":630}
    ],
    "c3": [
      {"s":"Linear","t":-10,"p":980},{"s":"Linear","t":29.07,"p":500},
      {"s":"Quadratic","t":-9.82,"p":1131},{"s":"Quadratic","t":-8,"p":1083},{"s":"Quadratic","t":-6,"p":1032},{"s":"Quadratic","t":-4,"p":983},{"s":"Quadratic","t":-2,"p":937},{"s":"Quadratic","t":0,"p":894},{"s":"Quadratic","t":2,"p":854},{"s":"Quadratic","t":4,"p":816},{"s":"Quadratic","t":6,"p":781},{"s":"Quadratic","t":8,"p":748},{"s":"Quadratic","t":10,"p":719},{"s":"Quadratic","t":12,"p":691},{"s":"Quadratic","t":14,"p":667},{"s":"Quadratic","t":16,"p":645},{"s":"Quadratic","t":18,"p":626},{"s":"Quadratic","t":20,"p":610},{"s":"Quadratic","t":22,"p":596},{"s":"Quadratic","t":24,"p":585},{"s":"Quadratic","t":26,"p":577},{"s":"Quadratic","t":28,"p":572},{"s":"Quadratic","t":30,"p":571},{"s":"Quadratic","t":31.3,"p":572},
      {"s":"Cubic","t":-10,"p":957},{"s":"Cubic","t":-7.2,"p":959},{"s":"Cubic","t":-3.37,"p":933},{"s":"Cubic","t":0.1,"p":895},{"s":"Cubic","t":3.95,"p":834},{"s":"Cubic","t":7.03,"p":782},{"s":"Cubic","t":10.1,"p":720},{"s":"Cubic","t":13.97,"p":659},{"s":"Cubic","t":17.44,"p":621},{"s":"Cubic","t":20.9,"p":597},{"s":"Cubic","t":22.5,"p":586},{"s":"Cubic","t":24.5,"p":590},{"s":"Cubic","t":26.3,"p":602},{"s":"Cubic","t":29,"p":649},{"s":"Cubic","t":32.1,"p":725}
    ]
  },
  "vconcat": [
    {
      "width": 470, "height": 485,
      "layer": [
        {"data": {"name": "p1"},
         "mark": {"type": "point", "filled": false, "size": 42, "strokeWidth": 1.15, "opacity": 1, "color": "#1a1a1a"},
         "encoding": {
           "x": {"field": "t", "type": "quantitative", "scale": {"domain": [-10, 32.2], "nice": false, "zero": false}, "axis": {"values": [-10, 0, 10, 20, 30], "labelExpr": "'' + datum.value", "title": "Tavg (degrees C)"}},
           "y": {"field": "p", "type": "quantitative", "scale": {"domain": [800, 1642], "nice": false, "zero": false}, "axis": {"values": [800, 1000, 1200, 1400, 1600], "format": "d", "title": "Pmax (MW)"}},
           "shape": {"datum": "Observed", "type": "nominal", "scale": {"domain": ["Observed"], "range": ["circle"]},
             "legend": {"orient": "none", "legendX": 519, "legendY": 1, "symbolSize": 40, "symbolStrokeWidth": 1.2}}
         }},
        {"data": {"name": "c1"},
         "mark": {"type": "line", "strokeWidth": 3, "interpolate": "monotone", "clip": true},
         "encoding": {
           "x": {"field": "t", "type": "quantitative"},
           "y": {"field": "p", "type": "quantitative"},
           "color": {"field": "s", "type": "nominal",
             "scale": {"domain": ["Linear", "Quadratic", "Cubic"], "range": ["#2aa84a", "#ee3035", "#5a5cf5"]},
             "legend": {"orient": "none", "legendX": 516.5, "legendY": 16, "rowPadding": -1, "symbolSize": 100, "symbolStrokeWidth": 4, "symbolType": "M-2.1,0L2.1,0",
               "encode": {"symbols": {"update": {"shape": [{"test": "datum.value === 'Cubic'", "value": "M-0.9,0L0.9,0"}, {"value": "M-2.1,0L2.1,0"}]}}}}},
           "strokeDash": {"field": "s", "type": "nominal", "scale": {"domain": ["Linear", "Quadratic", "Cubic"], "range": [[1, 0], [16, 5, 3, 5], [12, 7]]}, "legend": null}
         }}
      ]
    },
    {
      "width": 475, "height": 489,
      "layer": [
        {"data": {"name": "p2"},
         "mark": {"type": "point", "filled": false, "size": 42, "strokeWidth": 1.15, "opacity": 1, "color": "#1a1a1a"},
         "encoding": {
           "x": {"field": "t", "type": "quantitative", "scale": {"domain": [-10, 32.2], "nice": false, "zero": false}, "axis": {"values": [-10, 0, 10, 20, 30], "labelExpr": "'' + datum.value", "title": "Tavg (degrees C)"}},
           "y": {"field": "p", "type": "quantitative", "scale": {"domain": [600, 1337], "nice": false, "zero": false}, "axis": {"values": [600, 800, 1000, 1200], "format": "d", "title": "Pavg (MW)"}},
           "shape": {"datum": "Observed", "type": "nominal", "scale": {"domain": ["Observed"], "range": ["circle"]},
             "legend": {"orient": "none", "legendX": 523, "legendY": -10, "symbolSize": 40, "symbolStrokeWidth": 1.2}}
         }},
        {"data": {"name": "c2"},
         "mark": {"type": "line", "strokeWidth": 3, "interpolate": "monotone", "clip": true},
         "encoding": {
           "x": {"field": "t", "type": "quantitative"},
           "y": {"field": "p", "type": "quantitative"},
           "color": {"field": "s", "type": "nominal",
             "scale": {"domain": ["Linear", "Quadratic", "Cubic"], "range": ["#2aa84a", "#ee3035", "#5a5cf5"]},
             "legend": {"orient": "none", "legendX": 527.5, "legendY": 2.2, "rowPadding": -3, "labelOffset": 1.5, "symbolSize": 100, "symbolStrokeWidth": 4, "symbolType": "M-1.2,0L1.2,0",
               "encode": {"symbols": {"update": {"shape": [{"test": "datum.value === 'Cubic'", "value": "M-0.8,0L0.8,0"}, {"value": "M-1.2,0L1.2,0"}]}}}}},
           "strokeDash": {"field": "s", "type": "nominal", "scale": {"domain": ["Linear", "Quadratic", "Cubic"], "range": [[1, 0], [16, 5, 3, 5], [12, 7]]}, "legend": null}
         }}
      ]
    },
    {
      "width": 468, "height": 485,
      "layer": [
        {"data": {"name": "p3"},
         "mark": {"type": "point", "filled": false, "size": 42, "strokeWidth": 1.15, "opacity": 1, "color": "#1a1a1a"},
         "encoding": {
           "x": {"field": "t", "type": "quantitative", "scale": {"domain": [-10, 32.1], "nice": false, "zero": false}, "axis": {"values": [-10, 0, 10, 20, 30], "labelExpr": "'' + datum.value", "title": "Tavg (degrees C)"}},
           "y": {"field": "p", "type": "quantitative", "scale": {"domain": [500, 1132], "nice": false, "zero": false}, "axis": {"values": [500, 600, 700, 800, 900, 1000, 1100], "format": "d", "title": "Pmin (MW)"}},
           "shape": {"datum": "Observed", "type": "nominal", "scale": {"domain": ["Observed"], "range": ["circle"]},
             "legend": {"orient": "none", "legendX": 514, "legendY": 3, "symbolSize": 40, "symbolStrokeWidth": 1.2}}
         }},
        {"data": {"name": "c3"},
         "mark": {"type": "line", "strokeWidth": 3, "interpolate": "monotone", "clip": true},
         "encoding": {
           "x": {"field": "t", "type": "quantitative"},
           "y": {"field": "p", "type": "quantitative"},
           "color": {"field": "s", "type": "nominal",
             "scale": {"domain": ["Linear", "Quadratic", "Cubic"], "range": ["#2aa84a", "#ee3035", "#5a5cf5"]},
             "legend": {"orient": "none", "legendX": 514.2, "legendY": 16.3, "rowPadding": -2, "symbolSize": 100, "symbolStrokeWidth": 4, "symbolType": "M-2.1,0L2.1,0",
               "encode": {"symbols": {"update": {"shape": [{"test": "datum.value === 'Cubic'", "value": "M-0.9,0L0.9,0"}, {"value": "M-2.1,0L2.1,0"}]}}}}},
           "strokeDash": {"field": "s", "type": "nominal", "scale": {"domain": ["Linear", "Quadratic", "Cubic"], "range": [[1, 0], [16, 5, 3, 5], [12, 7]]}, "legend": null}
         }}
      ]
    }
  ],
  "spacing": 80,
  "bounds": "flush",
  "center": true,
  "resolve": {"scale": {"color": "independent", "shape": "independent", "strokeDash": "independent", "x": "independent", "y": "independent"}, "legend": {"color": "independent", "shape": "independent"}}
}
